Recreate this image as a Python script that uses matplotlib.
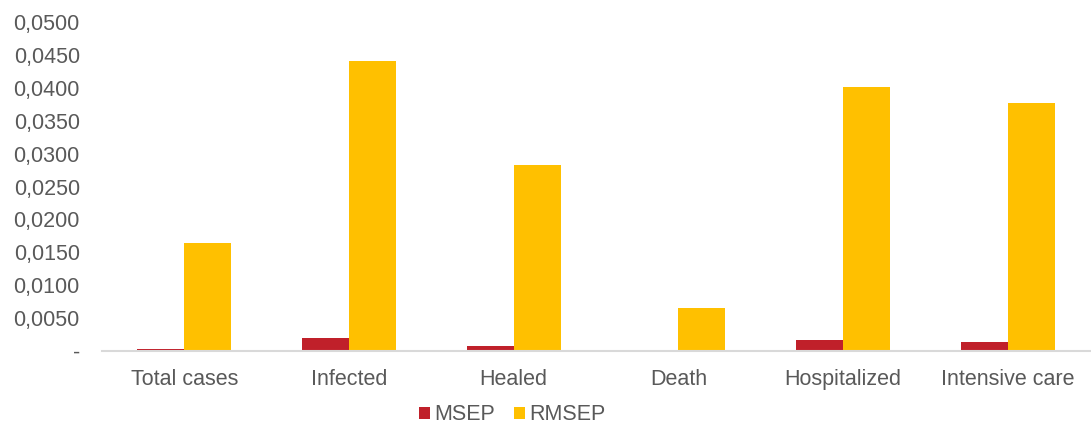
import matplotlib
matplotlib.use("Agg")
import matplotlib.pyplot as plt
import numpy as np
from matplotlib.ticker import FuncFormatter, MultipleLocator

categories = ["Total cases", "Infected", "Healed", "Death", "Hospitalized", "Intensive care"]
msep = [0.00027, 0.00195, 0.00080, 0.00004, 0.00161, 0.00142]
rmsep = [0.0164, 0.0441, 0.0283, 0.0065, 0.0401, 0.0377]

plt.rcParams["font.family"] = ["Liberation Sans", "DejaVu Sans"]
text_color = "#595959"

fig = plt.figure(figsize=(10.91, 4.33), dpi=100)
ax = fig.add_axes([102 / 1091, 1 - 351 / 433, 988 / 1091, 329 / 433])

x = np.arange(len(categories))
w = 0.285
ax.bar(x - w / 2, msep, width=w, color="#C0202A", label="MSEP")
ax.bar(x + w / 2, rmsep, width=w, color="#FFC000", label="RMSEP")

ax.set_xlim(-0.5, len(categories) - 0.5)
ax.set_ylim(0, 0.05)
ax.yaxis.set_major_locator(MultipleLocator(0.005))


def fmt(v, pos):
    if abs(v) < 1e-12:
        return "-"
    return f"{v:.4f}".replace(".", ",")


ax.yaxis.set_major_formatter(FuncFormatter(fmt))
ax.set_xticks(x)
ax.set_xticklabels(categories)

for side in ("top", "right", "left"):
    ax.spines[side].set_visible(False)
ax.spines["bottom"].set_color("#D9D9D9")
ax.spines["bottom"].set_linewidth(1.5)

ax.tick_params(axis="y", length=0, pad=16, labelsize=15.5, labelcolor=text_color)
ax.tick_params(axis="x", length=0, pad=13, labelsize=15.5, labelcolor=text_color)

leg = fig.legend(loc="center", bbox_to_anchor=(512 / 1091, 1 - 415 / 433), ncol=2,
                 frameon=False, fontsize=15.5, handlelength=0.5, handleheight=0.5,
                 handletextpad=0.2, columnspacing=0.9, labelcolor=text_color)

fig.savefig("out.png", dpi=100)
